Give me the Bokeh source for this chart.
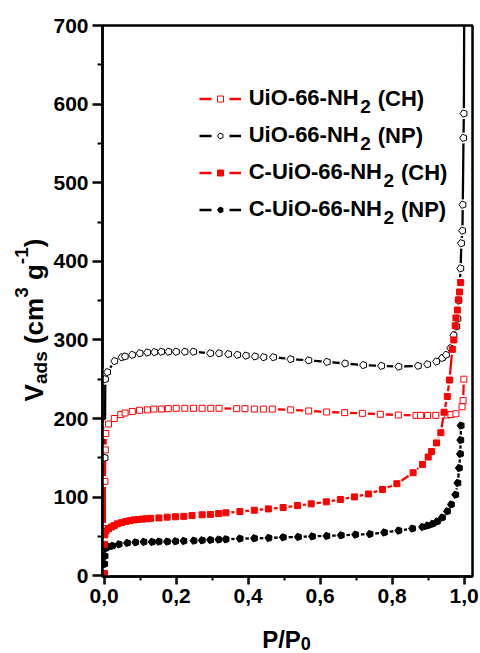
import numpy as np
from bokeh.plotting import figure
from bokeh.layouts import column, row
from bokeh.models import (Range1d, FixedTicker, CustomJSTickFormatter, Legend,
                          LegendItem, Label)
from bokeh.embed import file_html
from bokeh.resources import INLINE

# ---------------- data ----------------
# UiO-66-NH2 (CH): open red squares
ch_open_x = [0.0003, 0.001, 0.002, 0.003, 0.0045, 0.012, 0.028, 0.046, 0.058, 0.078,
             0.098, 0.12, 0.138, 0.159, 0.178, 0.2, 0.224, 0.248, 0.272, 0.296,
             0.319, 0.368, 0.391, 0.417, 0.442, 0.467, 0.518, 0.568, 0.618, 0.668,
             0.717, 0.767, 0.817, 0.866, 0.879, 0.898, 0.921, 0.953, 0.963, 0.977,
             0.994, 0.997, 0.999]
ch_open_y = [2, 60, 120, 160, 181, 193, 200, 205, 207, 209,
             210.5, 211, 212, 212, 212.5, 213, 213, 213, 213, 213,
             213, 212.5, 212.5, 212, 212, 212, 211, 209.6, 208.3, 207.5,
             206.6, 205.4, 204.5, 204, 204, 204, 204, 204.5, 205, 206,
             215, 223, 250]

# UiO-66-NH2 (NP): open black pentagons
np_open_x = [0.0005, 0.002, 0.003, 0.009, 0.029, 0.049, 0.058, 0.078, 0.099, 0.12,
             0.14, 0.159, 0.179, 0.2, 0.224, 0.248, 0.295, 0.319, 0.345, 0.37,
             0.394, 0.419, 0.443, 0.47, 0.518, 0.568, 0.619, 0.669, 0.72, 0.77,
             0.818, 0.872, 0.898, 0.923, 0.939, 0.95, 0.962, 0.971, 0.979, 0.982,
             0.985, 0.99, 0.992, 0.995, 0.996, 0.998, 0.999, 1.0]
np_open_y = [2, 150, 250, 259, 273, 278, 279, 281, 283, 284,
             284.5, 285, 285, 285, 285, 285, 283, 283, 282, 281,
             280, 279, 278, 278, 275.5, 274, 272, 270, 268, 267,
             266, 267, 269, 272.5, 277, 281, 289.5, 306, 317, 327,
             350, 391, 423, 439, 472, 557, 588, 720]

# C-UiO-66-NH2 (CH): filled red squares
ch_fill_x = [0.0003, 0.001, 0.002, 0.005, 0.012, 0.02, 0.028, 0.037, 0.048, 0.06,
             0.071, 0.083, 0.094, 0.106, 0.117, 0.129, 0.152, 0.175, 0.198, 0.221,
             0.244, 0.272, 0.295, 0.318, 0.338, 0.377, 0.417, 0.456, 0.497, 0.537,
             0.575, 0.617, 0.656, 0.695, 0.734, 0.773, 0.813, 0.858, 0.884, 0.9,
             0.909, 0.923, 0.935, 0.944, 0.953, 0.959, 0.967, 0.971, 0.975, 0.977,
             0.981, 0.984, 0.987, 0.99]
ch_fill_y = [3, 40, 52, 57, 60, 62, 64, 66, 67.5, 69,
             70, 71, 71.5, 72, 72.5, 73, 73.5, 74.5, 75, 75.5,
             76.5, 77.5, 78, 79, 80, 81.6, 83.3, 85, 86.7, 89.3,
             91.4, 94, 97, 100.3, 104, 109.7, 117, 131, 141.6, 151,
             158, 169, 182, 208, 228, 249, 288, 300, 318, 328,
             338, 351, 361, 373]

# C-UiO-66-NH2 (NP): filled black pentagons
np_fill_x = [0.0003, 0.001, 0.002, 0.005, 0.012, 0.023, 0.041, 0.064, 0.087, 0.11,
             0.133, 0.152, 0.175, 0.198, 0.221, 0.249, 0.272, 0.295, 0.318, 0.338,
             0.377, 0.417, 0.457, 0.497, 0.539, 0.578, 0.618, 0.658, 0.698, 0.738,
             0.778, 0.818, 0.856, 0.884, 0.898, 0.912, 0.925, 0.939, 0.953, 0.964,
             0.976, 0.982, 0.986, 0.989, 0.99, 0.991]
np_fill_y = [2, 15, 25, 35, 37, 38, 40, 41.7, 42.5, 43,
             43, 43.4, 43.4, 43.8, 44.2, 44.6, 45, 45.5, 46, 46.3,
             47.2, 47.6, 48, 48.9, 49.3, 50, 50.6, 51.4, 52.3, 53,
             55, 57.4, 60, 62, 63.8, 66, 69, 74, 82, 90.6,
             103, 118, 137, 155, 172.6, 191]

x_major = [0.0, 0.2, 0.4, 0.6, 0.8, 1.0]
x_minor = [0.1, 0.3, 0.5, 0.7, 0.9]
y_major = [0, 100, 200, 300, 400, 500, 600, 700]
y_minor = [50, 150, 250, 350, 450, 550, 650]

legend_names = [("UiO-66-NH", "2", "(CH)"), ("UiO-66-NH", "2", "(NP)"),
                ("C-UiO-66-NH", "2", "(CH)"), ("C-UiO-66-NH", "2", "(NP)")]
x_label_parts = ("P/P", "0")
y_label_parts = [("V", "n"), ("ads", "sub"), (" (cm", "n"), ("3", "sup"),
                 (" g", "n"), ("-1", "sup"), (")", "n")]

# ---------------- layout ----------------
FONT = "Liberation Sans"
RED = "#ff0000"
W, H = 480, 653
YLAB_W = 50                 # strip holding the y-axis title
MAIN_H = 625                # main figure height; the x title strip is below
XLAB_H = H - MAIN_H
FRAME_L, FRAME_R, FRAME_T, FRAME_B = 100, 472, 25, 576   # page pixels
MAIN_W = W - YLAB_W
FRAME_H = FRAME_B - FRAME_T
MID = 0.32                  # baseline sits this many em below a "middle" anchor

# Arial bold advance widths (per 1000 em)
AW = {'U': 722, 'i': 278, 'O': 778, '-': 333, '6': 556, 'N': 722, 'H': 722,
      'C': 722, ' ': 278, '(': 333, ')': 333, 'P': 667, '2': 556, '/': 278,
      '0': 556, 'V': 667, 'a': 556, 'd': 611, 's': 556, 'c': 556, 'm': 889,
      '3': 556, 'g': 611, '1': 556}


def tw(s, size):
    return sum(AW.get(c, 556) for c in s) * size / 1000.0


p = figure(width=MAIN_W, height=MAIN_H, output_backend="svg", toolbar_location=None,
           x_range=Range1d(-0.0047, 1.023), y_range=Range1d(-1, 700),
           min_border_left=FRAME_L - YLAB_W, min_border_right=W - FRAME_R,
           min_border_top=FRAME_T, min_border_bottom=MAIN_H - FRAME_B,
           background_fill_color="white", border_fill_color="white")
p.grid.visible = False
p.outline_line_color = "black"
p.outline_line_width = 2.5

p.xaxis.ticker = FixedTicker(ticks=x_major, minor_ticks=x_minor)
p.yaxis.ticker = FixedTicker(ticks=y_major, minor_ticks=y_minor)
p.xaxis.formatter = CustomJSTickFormatter(code="return tick.toFixed(1).replace('.', ',');")
for ax in (p.xaxis[0], p.yaxis[0]):
    ax.axis_line_width = 2.5
    ax.major_tick_line_width = 2.5
    ax.minor_tick_line_width = 2
    ax.major_tick_in = 0
    ax.minor_tick_in = 0
    ax.major_label_text_font = FONT
    ax.major_label_text_font_style = "bold"
    ax.major_label_text_font_size = "21px"
    ax.major_label_text_color = "black"
p.xaxis.major_tick_out = 8
p.xaxis.minor_tick_out = 4
p.xaxis.major_label_standoff = 4
p.yaxis.major_tick_out = 10
p.yaxis.minor_tick_out = 5
p.yaxis.major_label_standoff = 4

LINE_W = 2.3
HALO = 11      # white gap around each symbol, as in the original software


def pentagons(x, y, fill, line, r=3.8):
    if hasattr(p, "ngon"):
        return p.ngon(x=x, y=y, radius=r, radius_units="screen", n=5,
                      angle=np.pi / 2, fill_color=fill, line_color=line, line_width=1)
    return p.scatter(x=x, y=y, marker="hex", size=2 * r + 1, fill_color=fill,
                     line_color=line, line_width=1)


series = [(np_open_x, np_open_y, "black"), (ch_open_x, ch_open_y, RED),
          (np_fill_x, np_fill_y, "black"), (ch_fill_x, ch_fill_y, RED)]
# connecting lines with symbol gaps first
for sx, sy, col in series:
    p.line(sx, sy, line_color=col, line_width=LINE_W)
    p.scatter(sx, sy, marker="circle", size=HALO, fill_color="white", line_color=None)

# symbols on top
m_np_open = pentagons(np_open_x, np_open_y, "white", "black")
m_ch_open = p.scatter(ch_open_x, ch_open_y, marker="square", size=6,
                      fill_color="white", line_color=RED, line_width=1)
m_np_fill = pentagons(np_fill_x, np_fill_y, "black", "black")
m_ch_fill = p.scatter(ch_fill_x, ch_fill_y, marker="square", size=6,
                      fill_color=RED, line_color=RED, line_width=1)

# legend-only sample lines (a single NaN point, so nothing is drawn in the plot)
LEG_DASH = "12 18"
leg_red = p.line([np.nan], [np.nan], line_color=RED, line_width=2.7, line_dash=LEG_DASH)
leg_blk = p.line([np.nan], [np.nan], line_color="black", line_width=2.7, line_dash=LEG_DASH)

markers = [m_ch_open, m_np_open, m_ch_fill, m_np_fill]
lines = [leg_red, leg_blk, leg_red, leg_blk]
LEG_X = 196.7 - FRAME_L      # glyph left edge, from frame left
LEG_TOP = 84.5 - FRAME_T     # legend top, from frame top
ROW_H, ROW_SP = 27, 10
GLYPH_W, GLYPH_H, STANDOFF = 42, 15, 8
n = len(legend_names)
leg_h = n * ROW_H + (n - 1) * ROW_SP
items = [LegendItem(label=nm[0], renderers=[ln, mk])
         for nm, ln, mk in zip(legend_names, lines, markers)]
legend = Legend(items=items, location=(LEG_X, FRAME_H - LEG_TOP - leg_h),
                orientation="vertical", glyph_width=GLYPH_W, glyph_height=GLYPH_H,
                label_height=ROW_H, spacing=ROW_SP, padding=0, margin=0,
                label_standoff=STANDOFF, border_line_color=None,
                background_fill_alpha=0, label_text_font=FONT,
                label_text_font_style="bold", label_text_font_size="22px",
                label_text_color="black")
p.add_layout(legend)

for i, (main, sub, tail) in enumerate(legend_names):
    yc = FRAME_H - LEG_TOP - ROW_H / 2 - i * (ROW_H + ROW_SP)
    x0 = LEG_X + GLYPH_W + STANDOFF + tw(main, 22) + 1
    p.add_layout(Label(x=x0, y=yc - 7.7, x_units="screen", y_units="screen", text=sub,
                       text_font=FONT, text_font_style="bold", text_font_size="19px",
                       text_baseline="middle", text_align="left", text_color="black"))
    x1 = x0 + tw(sub, 19) + 7
    p.add_layout(Label(x=x1, y=yc, x_units="screen", y_units="screen", text=tail,
                       text_font=FONT, text_font_style="bold", text_font_size="22px",
                       text_baseline="middle", text_align="left", text_color="black"))


def strip(width, height, top=0, bottom=0):
    f = figure(width=width, height=height, output_backend="svg", toolbar_location=None,
               x_range=Range1d(0, 1), y_range=Range1d(0, 1), x_axis_type=None,
               y_axis_type=None, min_border_left=0, min_border_right=0,
               min_border_top=top, min_border_bottom=bottom,
               background_fill_color="white", border_fill_color="white")
    f.grid.visible = False
    f.outline_line_color = None
    return f


# y axis title strip: V_ads (cm^3 g^-1), rotated; frame spans page y 25..576
ylab = strip(YLAB_W, MAIN_H, top=FRAME_T, bottom=MAIN_H - FRAME_B)
MAIN, SMALL = 26, 19
sizes = {"n": MAIN, "sub": SMALL, "sup": SMALL}
base = {"n": 41.7, "sub": 46.0, "sup": 27.0}     # page x of each baseline
total = sum(tw(t, sizes[k]) for t, k in y_label_parts)
u = (FRAME_B - 319.5) - total / 2
for t, k in y_label_parts:
    txt = t.lstrip()
    u += tw(t[:len(t) - len(txt)], sizes[k])      # leading space as a gap
    ylab.add_layout(Label(x=base[k] - MID * sizes[k], y=u, x_units="screen",
                          y_units="screen", text=txt, angle=np.pi / 2, text_font=FONT,
                          text_font_style="bold", text_font_size=f"{sizes[k]}px",
                          text_baseline="middle", text_align="left", text_color="black"))
    u += tw(txt, sizes[k])

# x axis title strip: P/P0 (page y 625..653)
xlab = strip(W, XLAB_H)
xt_w = tw(x_label_parts[0], 24) + tw(x_label_parts[1], 18)
xs = (FRAME_L + FRAME_R) / 2 - xt_w / 2
xlab.add_layout(Label(x=xs, y=H - (646.7 - MID * 24), x_units="screen", y_units="screen",
                      text=x_label_parts[0], text_font=FONT, text_font_style="bold",
                      text_font_size="24px", text_baseline="middle", text_color="black"))
xlab.add_layout(Label(x=xs + tw(x_label_parts[0], 24), y=H - (648.8 - MID * 18),
                      x_units="screen", y_units="screen", text=x_label_parts[1],
                      text_font=FONT, text_font_style="bold", text_font_size="18px",
                      text_baseline="middle", text_color="black"))

layout = column(row(ylab, p, spacing=0), xlab, spacing=0)
open("out.html", "w").write(file_html(layout, INLINE))
